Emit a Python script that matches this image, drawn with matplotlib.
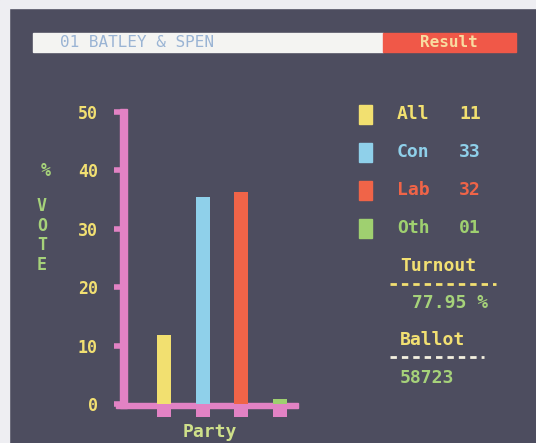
import matplotlib
matplotlib.use("Agg")
import matplotlib.pyplot as plt
from matplotlib.patches import Rectangle

plt.rcParams["lines.scale_dashes"] = False

# ---- data ----
parties = ["All", "Con", "Lab", "Oth"]
bar_values = [11.8, 35.4, 36.3, 0.9]          # bar heights as drawn on screen
legend_values = ["11", "33", "32", "01"]      # numbers printed in the key
yticks = [0, 10, 20, 30, 40, 50]
title = "01 BATLEY & SPEN"
status = "Result"
turnout = "77.95 %"
ballot = "58723"

# ---- style ----
BG = "#4d4d5f"
PINK = "#e282c4"
YEL = "#f2e072"
colors = ["#f2e070", "#8fd0ea", "#f06448", "#9fd070"]
GREEN = "#a6d27a"
FONT = "DejaVu Sans Mono"

W, H = 536, 443
fig = plt.figure(figsize=(W / 100, H / 100), dpi=100, facecolor=BG)

# overlay axes in pixel coordinates for the text decorations
ov = fig.add_axes([0, 0, 1, 1])
ov.set_xlim(0, W)
ov.set_ylim(H, 0)
ov.axis("off")
ov.set_zorder(2)
ov.patch.set_alpha(0)

# pale photo border (top and left)
ov.add_patch(Rectangle((0, 0), W, 8, color="#eeeef2"))
ov.add_patch(Rectangle((0, 0), 9, H, color="#eeeef2"))

# title bar
ov.add_patch(Rectangle((33, 33), 350, 19, color="#f4f4f2"))
ov.add_patch(Rectangle((383, 33), 133, 19, color="#f05848"))
ov.text(60, 42.5, title, family=FONT, fontsize=11.5, color="#9ab4d4", va="center", ha="left")
ov.text(449, 42.5, status, family=FONT, fontsize=11.5, color="#f8dca0", va="center", ha="center",
        weight="bold")

# y label (vertical letters)
ov.text(46, 171, "%", family=FONT, fontsize=12, color=GREEN, ha="center", va="center", weight="bold")
for i, ch in enumerate("VOTE"):
    ov.text(42, 206 + i * 19.5, ch, family=FONT, fontsize=12, color=GREEN, ha="center", va="center",
            weight="bold")

# x label
ov.text(210, 432, "Party", family=FONT, fontsize=13, color="#cfe08a", ha="center", va="center",
        weight="bold")

# key
rows_y = [114, 152, 190, 228]
for yy, name, val, c in zip(rows_y, parties, legend_values, colors):
    ov.add_patch(Rectangle((359, yy - 9), 13, 19, color=c))
    ov.text(397, yy, name, family=FONT, fontsize=13, color=c, ha="left", va="center", weight="bold")
    ov.text(459, yy, val, family=FONT, fontsize=13, color=c, ha="left", va="center", weight="bold")

dash = (0, (4.6, 3.6))
ov.text(400, 266, "Turnout", family=FONT, fontsize=13, color=YEL, ha="left", va="center", weight="bold")
ov.plot([390, 496], [284, 284], color=YEL, lw=2, linestyle=dash, solid_capstyle="butt")
ov.text(412, 303, turnout, family=FONT, fontsize=13, color=GREEN, ha="left", va="center", weight="bold")
ov.text(400, 340, "Ballot", family=FONT, fontsize=13, color=YEL, ha="left", va="center", weight="bold")
ov.plot([390, 484], [357, 357], color="#f4f0e0", lw=2, linestyle=dash, solid_capstyle="butt")
ov.text(400, 378, ballot, family=FONT, fontsize=13, color=GREEN, ha="left", va="center", weight="bold")

# ---- bar chart axes ----
x0, x1 = 120, 298
y0, y50 = 404, 112
ax = fig.add_axes([x0 / W, (H - y0) / H, (x1 - x0) / W, (y0 - y50) / H])
ax.set_facecolor("none")
unit = 38.5
ax.set_xlim(-44 / unit, (x1 - x0 - 44) / unit)
ax.set_ylim(0, 50)
xs = list(range(len(parties)))
bw = 14 / unit
ax.bar(xs, bar_values, width=bw, color=colors, zorder=3)
# pink markers under each bar
ax.bar(xs, -1.75, bottom=-0.55, width=bw, color=PINK, clip_on=False, zorder=2)

for s in ax.spines.values():
    s.set_visible(False)
# axis lines
ax.add_patch(Rectangle((0.0, -0.012), 0.042, 1.022, transform=ax.transAxes, color=PINK,
                       clip_on=False, zorder=2))
ax.add_patch(Rectangle((-0.02, -0.012), 1.02, 0.017, transform=ax.transAxes, color=PINK,
                       clip_on=False, zorder=2))

ax.set_xticks([])
ax.set_yticks(yticks)
ax.set_yticklabels([str(t) for t in yticks], family=FONT, fontsize=12, color=YEL, weight="bold")
ax.tick_params(axis="y", length=4, width=4, color=PINK, pad=12, direction="out")

fig.savefig("out.png", dpi=100, facecolor=BG)
